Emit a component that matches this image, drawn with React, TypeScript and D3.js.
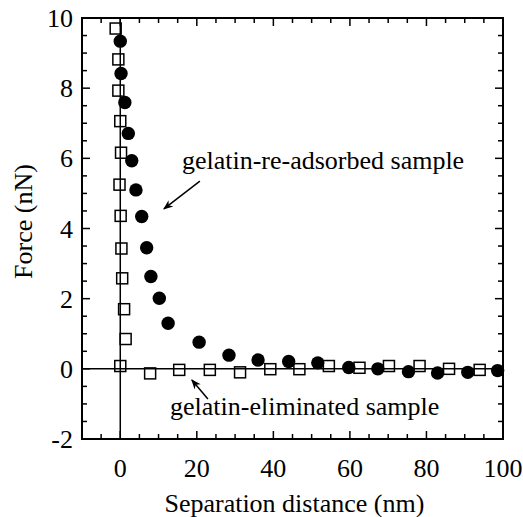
import React, { useEffect, useRef } from 'react';
import * as d3 from 'd3';

// gelatin-re-adsorbed sample (filled circles)
const adsorbedX = [0, 0.2, 1.2, 2.1, 3.0, 4.1, 5.6, 6.9, 8.0, 10.2, 12.5, 20.6, 28.4, 36.0, 44.0, 51.6, 59.7, 67.3, 75.3, 82.9, 90.8, 98.6];
const adsorbedY = [9.34, 8.42, 7.59, 6.71, 5.93, 5.10, 4.34, 3.45, 2.63, 2.01, 1.30, 0.76, 0.39, 0.25, 0.21, 0.17, 0.04, 0.0, -0.08, -0.12, -0.10, -0.05];

// gelatin-eliminated sample (open squares)
const eliminatedX = [-1.2, -0.5, -0.5, 0, 0.2, -0.2, 0.1, 0.3, 0.5, 1.0, 1.4, 0, 7.8, 15.4, 23.4, 31.3, 39.2, 46.8, 54.5, 62.5, 70.2, 78.2, 85.9, 93.9];
const eliminatedY = [9.7, 8.82, 7.93, 7.06, 6.16, 5.25, 4.36, 3.43, 2.58, 1.70, 0.85, 0.08, -0.13, -0.03, -0.03, -0.10, -0.01, -0.01, 0.08, 0.03, 0.08, 0.08, 0.0, -0.03];

const xTickLabels = [0, 20, 40, 60, 80, 100];
const yTickLabels = [-2, 0, 2, 4, 6, 8, 10];

const W = 523;
const H = 517;
const FONT = "'Liberation Serif', 'DejaVu Serif', 'Times New Roman', Times, serif";

export default function App() {
  const ref = useRef<SVGSVGElement>(null);

  useEffect(() => {
    const svg = d3.select(ref.current);
    svg.selectAll('*').remove();

    const margin = { top: 18, right: 20, bottom: 78, left: 82 };
    const width = W - margin.left - margin.right;
    const height = H - margin.top - margin.bottom;

    const x = d3.scaleLinear().domain([-10, 100]).range([0, width]);
    const y = d3.scaleLinear().domain([-2, 10]).range([height, 0]);

    const defs = svg.append('defs');
    defs.append('marker')
      .attr('id', 'arrow')
      .attr('viewBox', '0 0 10 10')
      .attr('refX', 9)
      .attr('refY', 5)
      .attr('markerWidth', 10)
      .attr('markerHeight', 10)
      .attr('markerUnits', 'userSpaceOnUse')
      .attr('orient', 'auto')
      .append('path')
      .attr('d', 'M0,1 L10,5 L0,9 L3,5 Z')
      .attr('fill', '#000');

    const g = svg.append('g')
      .attr('transform', `translate(${margin.left},${margin.top})`)
      .attr('font-family', FONT)
      .attr('font-size', 26);

    // zero lines
    g.append('line')
      .attr('x1', 0).attr('x2', width)
      .attr('y1', y(0)).attr('y2', y(0))
      .attr('stroke', '#000').attr('stroke-width', 1.5);
    g.append('line')
      .attr('x1', x(0)).attr('x2', x(0))
      .attr('y1', 0).attr('y2', height)
      .attr('stroke', '#000').attr('stroke-width', 1.5);

    // ticks, pointing inward on all four sides
    const xMinor = d3.range(-5, 100, 5);
    const yMinor = d3.range(-1.5, 10, 0.5);
    const tickG = g.append('g').attr('stroke', '#000').attr('stroke-width', 1.5);
    xMinor.forEach((v) => {
      const len = v % 20 === 0 ? 8 : 5;
      tickG.append('line').attr('x1', x(v)).attr('x2', x(v)).attr('y1', height).attr('y2', height - len);
      tickG.append('line').attr('x1', x(v)).attr('x2', x(v)).attr('y1', 0).attr('y2', len);
    });
    yMinor.forEach((v) => {
      const len = v % 2 === 0 ? 8 : 5;
      tickG.append('line').attr('y1', y(v)).attr('y2', y(v)).attr('x1', 0).attr('x2', len);
      tickG.append('line').attr('y1', y(v)).attr('y2', y(v)).attr('x1', width).attr('x2', width - len);
    });

    // frame
    g.append('rect')
      .attr('width', width).attr('height', height)
      .attr('fill', 'none').attr('stroke', '#000').attr('stroke-width', 2);

    // tick labels
    g.selectAll('.xl').data(xTickLabels).enter().append('text')
      .attr('x', (d) => x(d)).attr('y', height + 38)
      .attr('text-anchor', 'middle')
      .text((d) => d);
    g.selectAll('.yl').data(yTickLabels).enter().append('text')
      .attr('x', -9).attr('y', (d) => y(d))
      .attr('dy', '0.35em')
      .attr('text-anchor', 'end')
      .text((d) => d);

    // axis titles
    g.append('text')
      .attr('x', x(45.5)).attr('y', height + 73)
      .attr('text-anchor', 'middle')
      .text('Separation distance (nm)');
    g.append('text')
      .attr('transform', `translate(${-50},${height / 2 - 7}) rotate(-90)`)
      .attr('text-anchor', 'middle')
      .text('Force (nN)');

    // data
    const circles = adsorbedX.map((v, i) => ({ x: v, y: adsorbedY[i] }));
    const squares = eliminatedX.map((v, i) => ({ x: v, y: eliminatedY[i] }));
    const s = 11;
    g.selectAll('.sq').data(squares).enter().append('rect')
      .attr('x', (d) => x(d.x) - s / 2).attr('y', (d) => y(d.y) - s / 2)
      .attr('width', s).attr('height', s)
      .attr('fill', 'none').attr('stroke', '#000').attr('stroke-width', 1.5);
    g.selectAll('.ci').data(circles).enter().append('circle')
      .attr('cx', (d) => x(d.x)).attr('cy', (d) => y(d.y))
      .attr('r', 6.7).attr('fill', '#000');

    // annotations
    g.append('text')
      .attr('x', x(16.1)).attr('y', y(5.69))
      .text('gelatin-re-adsorbed sample');
    g.append('line')
      .attr('x1', x(20.8)).attr('y1', y(5.35))
      .attr('x2', x(11.4)).attr('y2', y(4.56))
      .attr('stroke', '#000').attr('stroke-width', 1.5)
      .attr('marker-end', 'url(#arrow)');
    g.append('text')
      .attr('x', x(13.0)).attr('y', y(-1.32))
      .text('gelatin-eliminated sample');
    g.append('line')
      .attr('x1', x(22.9)).attr('y1', y(-0.86))
      .attr('x2', x(18.7)).attr('y2', y(-0.32))
      .attr('stroke', '#000').attr('stroke-width', 1.5)
      .attr('marker-end', 'url(#arrow)');
  }, []);

  return (
    <div style={{ position: 'absolute', left: 0, top: 0, background: '#fff' }}>
      <svg ref={ref} width={W} height={H} style={{ display: 'block' }} />
    </div>
  );
}
